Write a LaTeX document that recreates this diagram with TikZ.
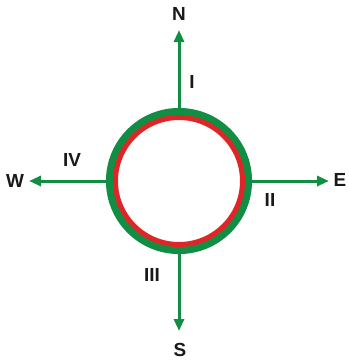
\documentclass[tikz,border=0pt]{standalone}
\usepackage{fontspec}
\setmainfont{Liberation Sans}
\usetikzlibrary{arrows.meta}
\definecolor{ringgreen}{RGB}{18,142,68}
\definecolor{ringred}{RGB}{222,38,40}
\tikzset{
  lbl/.style={font=\fontsize{19}{19}\selectfont\bfseries, inner sep=0pt, text=black!90},
  dirarrow/.style={draw=ringgreen, line width=3bp, -{Triangle[length=12bp,width=10bp]}},
}
\begin{document}
\begin{tikzpicture}[x=1bp,y=-1bp]
\useasboundingbox (0,0) rectangle (349,364);
\node[circle, inner sep=0pt, minimum size=146bp] (ring) at (179,181) {};
\draw[ringgreen, line width=7.5bp] (ring.center) circle[radius=69.3bp];
\draw[ringred, line width=5bp] (ring.center) circle[radius=63.5bp];
\coordinate (tipN) at (179,30);
\coordinate (tipS) at (179,331);
\coordinate (tipW) at (29,181);
\coordinate (tipE) at (329,181);
\draw[dirarrow] (ring.north) -- (tipN);
\draw[dirarrow] (ring.south) -- (tipS);
\draw[dirarrow] (ring.west) -- (tipW);
\draw[dirarrow] (ring.east) -- (tipE);
\node[lbl] (N) at (179,14) {N};
\node[lbl] (S) at (180,350) {S};
\node[lbl] (W) at (15,181) {W};
\node[lbl] (E) at (340,180) {E};
\node[lbl] (I) at (192,82) {I};
\node[lbl] (II) at (270,200) {II};
\node[lbl] (III) at (152,275) {III};
\node[lbl] (IV) at (72,160) {IV};
\end{tikzpicture}
\end{document}
